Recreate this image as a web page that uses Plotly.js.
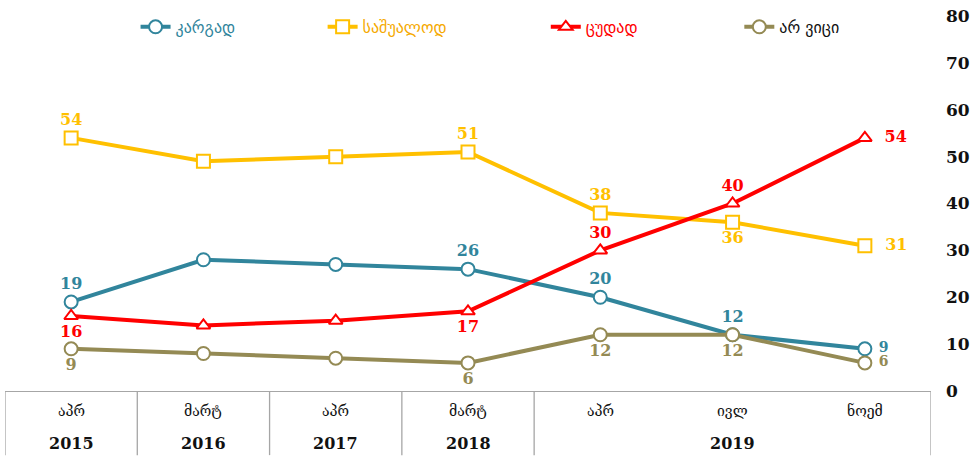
<!DOCTYPE html>
<html>
<head>
<meta charset="utf-8">
<script src="https://cdn.plot.ly/plotly-3.0.1.min.js"></script>
<style>
  html, body { margin: 0; padding: 0; background: #fff; }
  #chart { width: 976px; height: 472px; }
</style>
</head>
<body>
<div id="chart"></div>
<script>
// periods (month row + year row of the table under the chart)
const months = ['აპრ', 'მარტ', 'აპრ', 'მარტ', 'აპრ', 'ივლ', 'ნოემ'];
const years = ['2015', '2016', '2017', '2018', '2019', '2019', '2019'];

const seriesNames = ['კარგად', 'საშუალოდ', 'ცუდად', 'არ ვიცი'];
const good = [19, 28, 27, 26, 20, 12, 9];
const average = [54, 49, 50, 51, 38, 36, 31];
const bad = [16, 14, 15, 17, 30, 40, 54];
const dontKnow = [9, 8, 7, 6, 12, 12, 6];

// which points carry a value label, and where
const goodPos = ['top center', '', '', 'top center', 'top center', 'top center', 'middle right'];
const averagePos = ['top center', '', '', 'top center', 'top center', 'bottom center', 'middle right'];
const badPos = ['bottom center', '', '', 'bottom center', 'top center', 'top center', 'middle right'];
const dontKnowPos = ['bottom center', '', '', 'bottom center', 'bottom center', 'bottom center', 'middle right'];

const colors = ['#31859C', '#FFC000', '#FF0000', '#948A54'];
const legendTextColors = ['#31859C', '#F5A900', '#FF0000', '#111111'];
const symbols = ['circle', 'square', 'triangle-up', 'circle'];
const rightGap = [1, 2, 2, 1]; // spaces before the end-of-line labels
const endLabelSize = [14, 16, 16, 14]; // the 9 and 6 sit very close together

const xs = months.map((m, i) => i);

function makeTrace(vals, pos, k) {
  return {
    x: xs,
    y: vals,
    type: 'scatter',
    mode: 'lines+markers+text',
    name: seriesNames[k],
    legend: k === 0 ? 'legend' : 'legend' + (k + 1),
    line: { color: colors[k], width: 4 },
    marker: {
      symbol: symbols[k],
      size: k === 2 ? 12 : 13,
      color: '#ffffff',
      line: { color: colors[k], width: 2 }
    },
    text: vals.map((v, i) => {
      if (!pos[i]) return '';
      return pos[i] === 'middle right' ? '\u00a0'.repeat(rightGap[k]) + v : String(v);
    }),
    textposition: pos.map(p => p || 'top center'),
    textfont: {
      family: 'DejaVu Serif, serif',
      weight: 'bold',
      color: colors[k],
      size: vals.map((v, i) => i === vals.length - 1 ? endLabelSize[k] : 16)
    },
    cliponaxis: false,
    hoverinfo: 'x+y'
  };
}

const data = [
  makeTrace(good, goodPos, 0),
  makeTrace(average, averagePos, 1),
  makeTrace(bad, badPos, 2),
  makeTrace(dontKnow, dontKnowPos, 3)
];

// table under the plot: dividers between year groups
const shapes = [];
const bounds = [-0.5];
for (let i = 1; i < years.length; i++) {
  if (years[i] !== years[i - 1]) bounds.push(i - 0.5);
}
bounds.push(years.length - 0.5);
bounds.forEach(b => {
  shapes.push({
    type: 'line', xref: 'x', yref: 'paper',
    x0: b, x1: b, y0: 0, y1: -0.171,
    line: { color: '#A6A6A6', width: 1.3 }
  });
});

const annotations = [];
months.forEach((m, i) => {
  annotations.push({
    x: i, y: -0.052, xref: 'x', yref: 'paper', yanchor: 'middle',
    text: m, showarrow: false,
    font: { family: 'DejaVu Serif, serif', size: 14, color: '#111' }
  });
});
// one year label per group, centred under its months
let start = 0;
for (let i = 1; i <= years.length; i++) {
  if (i === years.length || years[i] !== years[start]) {
    annotations.push({
      x: (start + i - 1) / 2, y: -0.139, xref: 'x', yref: 'paper', yanchor: 'middle',
      text: years[start], showarrow: false,
      font: { family: 'DejaVu Serif, serif', size: 16, weight: 'bold', color: '#111' }
    });
    start = i;
  }
}

function legendBox(x, k) {
  return {
    x: x, y: 0.971, xanchor: 'left', yanchor: 'middle',
    orientation: 'h', bgcolor: 'rgba(0,0,0,0)',
    font: { family: 'DejaVu Sans, sans-serif', size: 16, color: legendTextColors[k] },
    itemwidth: 30
  };
}

const layout = {
  width: 976,
  height: 472,
  margin: { l: 5, r: 45, t: 16, b: 81 },
  paper_bgcolor: '#ffffff',
  plot_bgcolor: '#ffffff',
  showlegend: true,
  legend: legendBox(0.141, 0),
  legend2: legendBox(0.343, 1),
  legend3: legendBox(0.584, 2),
  legend4: legendBox(0.793, 3),
  xaxis: {
    range: [-0.5, 6.5],
    showticklabels: false,
    showgrid: false,
    zeroline: false,
    showline: true,
    linecolor: '#A6A6A6',
    linewidth: 1.3,
    ticks: '',
    fixedrange: true
  },
  yaxis: {
    side: 'right',
    range: [0, 80],
    dtick: 10,
    showgrid: false,
    zeroline: false,
    showline: false,
    ticks: '',
    ticklabelstandoff: 14,
    tickfont: { family: 'DejaVu Serif, serif', size: 17, weight: 'bold', color: '#111' },
    fixedrange: true
  },
  shapes: shapes,
  annotations: annotations
};

Plotly.newPlot('chart', data, layout, { displayModeBar: false, staticPlot: true });
</script>
</body>
</html>
